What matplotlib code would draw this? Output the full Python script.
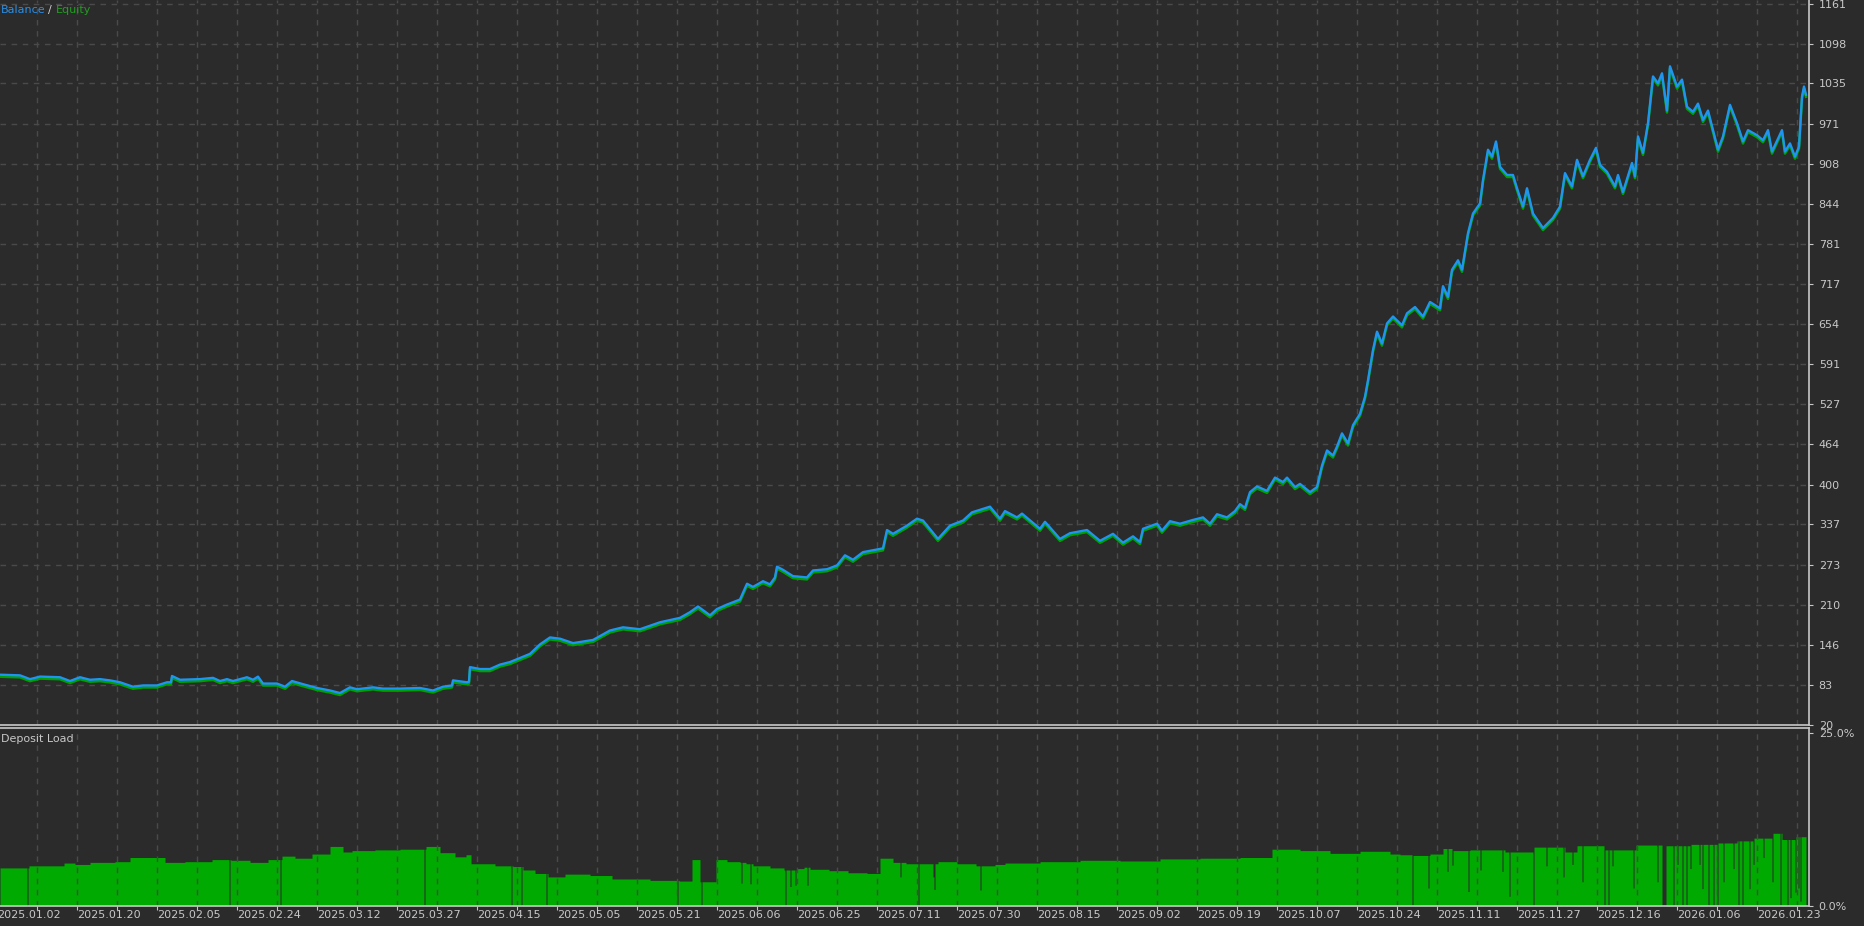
import matplotlib.pyplot as plt
import numpy as np
from matplotlib.transforms import offset_copy, blended_transform_factory

# canvas
W, H = 1865, 926
bg = '#2b2b2b'
txt = '#c8c8c8'
gridc = '#4a4a4a'

# balance curve (x = position along the tester timeline, y = account value)
eq_x = [0, 20, 30, 40, 60, 70, 80, 90, 100, 110, 120, 133, 143, 157, 167, 171, 172, 180, 200, 213,
        220, 227, 233, 247, 253, 258, 263, 277, 285, 292, 303, 317, 330, 340, 350, 357, 373, 383, 400, 420,
        433, 443, 452, 453, 467, 469, 470, 480, 490, 500, 510, 530, 540, 550, 560, 573, 593, 610, 623, 640,
        660, 680, 690, 698, 710, 717, 727, 740, 747, 753, 763, 770, 775, 777, 783, 793, 807, 813, 827, 837,
        845, 853, 863, 883, 887, 893, 907, 917, 923, 938, 950, 963, 972, 990, 1000, 1005, 1017, 1022, 1040, 1045,
        1060, 1070, 1087, 1100, 1113, 1123, 1133, 1140, 1143, 1157, 1162, 1170, 1180, 1193, 1203, 1210, 1217, 1227, 1235, 1240,
        1245, 1250, 1257, 1267, 1275, 1283, 1287, 1295, 1300, 1310, 1317, 1322, 1327, 1333, 1337, 1342, 1348, 1353, 1360, 1365,
        1368, 1373, 1377, 1382, 1387, 1393, 1402, 1407, 1415, 1423, 1430, 1440, 1443, 1448, 1452, 1458, 1462, 1468, 1473, 1480,
        1483, 1488, 1492, 1496, 1500, 1507, 1513, 1517, 1523, 1527, 1533, 1543, 1553, 1560, 1565, 1572, 1577, 1583, 1590, 1596,
        1600, 1607, 1615, 1618, 1623, 1632, 1635, 1638, 1643, 1648, 1653, 1658, 1662, 1667, 1670, 1677, 1682, 1687, 1693, 1698,
        1703, 1708, 1713, 1718, 1723, 1730, 1737, 1743, 1748, 1757, 1763, 1768, 1772, 1782, 1785, 1790, 1795, 1799, 1802, 1804,
        1806]
eq_y = [99, 98, 92, 96, 95, 89, 95, 91, 92, 90, 87, 80, 82, 82, 87, 87, 97, 91, 92, 94,
        89, 92, 89, 95, 91, 96, 85, 85, 80, 89, 84, 78, 74, 70, 79, 76, 79, 77, 77, 78,
        74, 80, 82, 90, 87, 88, 111, 108, 108, 115, 119, 132, 147, 158, 156, 149, 154, 169, 174, 171,
        182, 189, 198, 207, 193, 203, 210, 218, 243, 238, 247, 242, 253, 270, 265, 255, 253, 264, 266, 272,
        288, 281, 293, 299, 328, 322, 335, 346, 343, 314, 335, 343, 356, 365, 346, 358, 348, 354, 330, 341,
        314, 323, 328, 311, 322, 308, 318, 309, 330, 338, 327, 342, 338, 344, 348, 338, 353, 348, 358, 369,
        363, 388, 397, 390, 411, 404, 411, 396, 401, 388, 396, 430, 454, 446, 460, 481, 465, 494, 512, 539,
        565, 613, 642, 623, 655, 666, 652, 671, 681, 666, 689, 679, 714, 697, 740, 755, 740, 798, 829, 845,
        882, 930, 919, 943, 903, 890, 890, 869, 840, 869, 829, 806, 822, 840, 893, 872, 914, 888, 914, 933,
        906, 895, 872, 890, 863, 909, 888, 951, 925, 972, 1046, 1035, 1051, 992, 1062, 1030, 1041, 998, 990, 1003,
        977, 992, 961, 930, 951, 1001, 972, 943, 961, 953, 945, 961, 927, 961, 927, 940, 919, 935, 1014, 1030,
        1017]

# deposit load (%) - level from each x onwards
load_x = [0, 29, 64, 75, 90, 115, 130, 165, 185, 212, 231, 250, 268, 282, 295, 312, 330, 343, 352, 375,
          400, 426, 440, 455, 466, 471, 495, 513, 523, 535, 548, 565, 590, 612, 650, 679, 692, 700, 716, 727,
          740, 746, 753, 770, 784, 797, 804, 810, 829, 848, 867, 880, 893, 906, 938, 957, 976, 995, 1005, 1040,
          1080, 1120, 1160, 1200, 1240, 1272, 1300, 1330, 1360, 1390, 1400, 1413, 1430, 1443, 1453, 1470, 1505, 1533, 1565, 1577,
          1605, 1636, 1666, 1690, 1718, 1737, 1753, 1772, 1782, 1795, 1806]
load_v = [5.5, 5.8, 6.2, 6.0, 6.3, 6.4, 7.0, 6.3, 6.4, 6.7, 6.6, 6.3, 6.7, 7.2, 6.9, 7.5, 8.6, 7.8, 8.0, 8.1,
          8.2, 8.6, 7.7, 7.1, 7.4, 6.1, 5.8, 5.7, 5.2, 4.7, 4.2, 4.6, 4.4, 3.9, 3.7, 3.6, 6.7, 3.5, 6.7, 6.4,
          6.3, 6.1, 5.8, 5.5, 5.2, 5.4, 5.6, 5.3, 5.1, 4.8, 4.7, 6.9, 6.3, 6.1, 6.4, 6.1, 5.8, 6.0, 6.2, 6.4,
          6.6, 6.5, 6.8, 6.9, 7.0, 8.2, 8.0, 7.6, 7.9, 7.5, 7.4, 7.3, 7.5, 8.3, 8.0, 8.1, 7.8, 8.5, 7.8, 8.7,
          8.1, 8.8, 8.7, 8.9, 9.1, 9.4, 9.8, 10.5, 9.6, 10.0, 0.0]
# single-trade dips in the load histogram
dip_x = [27, 229, 280, 424, 511, 521, 546, 677, 701, 741, 750, 785, 790, 795, 807, 900, 918, 933, 934, 980,
         1412, 1428, 1447, 1452, 1468, 1480, 1502, 1509, 1533, 1546, 1563, 1572, 1582, 1604, 1608, 1612, 1633, 1657, 1662, 1663,
         1664, 1665, 1673, 1677, 1682, 1686, 1690, 1699, 1702, 1708, 1713, 1717, 1723, 1733, 1738, 1742, 1749, 1753, 1763, 1772,
         1780, 1787, 1790, 1795, 1798, 1800]
dip_v = [0, 0, 0, 0, 0, 0, 0, 0, 0, 3.3, 3.2, 0, 2.8, 3.0, 3.0, 4.2, 0, 4.2, 2.4, 2.3,
         0, 2.6, 5.0, 5.9, 2.1, 5.2, 5.0, 1.4, 0, 5.8, 4.2, 6.0, 3.5, 0, 0, 5.8, 2.6, 3.5, 0, 0,
         0, 0, 0, 6.0, 0, 0, 5.4, 6.0, 2.5, 0, 0, 0, 3.5, 5.4, 0, 0, 2.5, 6.0, 7.0, 3.5,
         0, 0, 1.2, 2.0, 2.6, 0.7]

y_ticks = [20, 83, 146, 210, 273, 337, 400, 464, 527, 591, 654, 717, 781, 844, 908, 971, 1035, 1098, 1161]
date_labels = ['2025.01.02', '2025.01.20', '2025.02.05', '2025.02.24', '2025.03.12', '2025.03.27',
               '2025.04.15', '2025.05.05', '2025.05.21', '2025.06.06', '2025.06.25', '2025.07.11',
               '2025.07.30', '2025.08.15', '2025.09.02', '2025.09.19', '2025.10.07', '2025.10.24',
               '2025.11.11', '2025.11.27', '2025.12.16', '2026.01.06', '2026.01.23']

plt.rcParams['font.family'] = ['DejaVu Sans']
plt.rcParams['font.size'] = 8

fig = plt.figure(figsize=(W / 100, H / 100), dpi=100, facecolor=bg)
ax = fig.add_axes([0, (H - 725) / H, 1809 / W, 725 / H])
ax2 = fig.add_axes([0, (H - 906) / H, 1809 / W, (906 - 728) / H])

xmax = 1809
grid_x = np.arange(37, xmax, 40)

for a in (ax, ax2):
    a.set_facecolor(bg)
    a.set_xlim(0, xmax)
    for s in ('top', 'left'):
        a.spines[s].set_visible(False)
    for s in ('right', 'bottom'):
        a.spines[s].set_color(txt)
        a.spines[s].set_linewidth(1.2)
    a.yaxis.tick_right()
    a.tick_params(axis='y', colors=txt, labelcolor=txt, length=3, pad=4, labelsize=8)
    a.set_xticks(grid_x)
    a.grid(axis='x', color=gridc, linestyle=(0, (4, 4)), linewidth=1)

ax2.spines['top'].set_visible(True)
ax2.spines['top'].set_color(txt)
ax2.spines['top'].set_linewidth(1.2)

# top panel
ax.set_ylim(19.4, 1167)
ax.set_yticks(y_ticks)
ax.set_yticklabels([str(v) for v in y_ticks])
ax.grid(axis='y', color=gridc, linestyle=(0, (4, 4)), linewidth=1)
ax.tick_params(axis='x', length=0, labelbottom=False)

# equity sits just under the balance line
eq_tr = offset_copy(ax.transData, fig=fig, x=0, y=-2, units='dots')
ax.plot(eq_x, eq_y, color='#00a000', lw=1.8, transform=eq_tr)
ax.plot(eq_x, eq_y, color='#1f95f0', lw=1.7)

# bottom panel: deposit load
px = np.arange(0, 1807)
idx = np.searchsorted(load_x, px, side='right') - 1
vals = np.array(load_v)[idx]
for dx, dv in zip(dip_x, dip_v):
    vals[dx] = dv
ax2.fill_between(px, vals, step='post', color='#00aa00', lw=0)
ax2.set_ylim(0, 25.7)
ax2.set_yticks([0, 25])
ax2.set_yticklabels(['0.0%', '25.0%'])
ax2.tick_params(axis='x', length=3, colors=txt, labelbottom=False)

tr = blended_transform_factory(ax2.transData, ax2.transAxes)
for i, lab in enumerate(date_labels):
    ax2.text(-3 + 80 * i, -0.05, lab, transform=tr, color=txt, fontsize=8,
             ha='left', va='center', clip_on=False)

fig.text(1 / W, 1 - 739 / H, 'Deposit Load', color=txt, fontsize=8, ha='left', va='center')

# legend text top-left
fig.text(1 / W, 1 - 10 / H, 'Balance', color='#2a8fe6', fontsize=8, ha='left', va='center')
fig.text(48 / W, 1 - 10 / H, '/', color='#d0d0d0', fontsize=8, ha='left', va='center')
fig.text(56 / W, 1 - 10 / H, 'Equity', color='#1ea01e', fontsize=8, ha='left', va='center')

fig.savefig('out.png', dpi=100, facecolor=bg)
